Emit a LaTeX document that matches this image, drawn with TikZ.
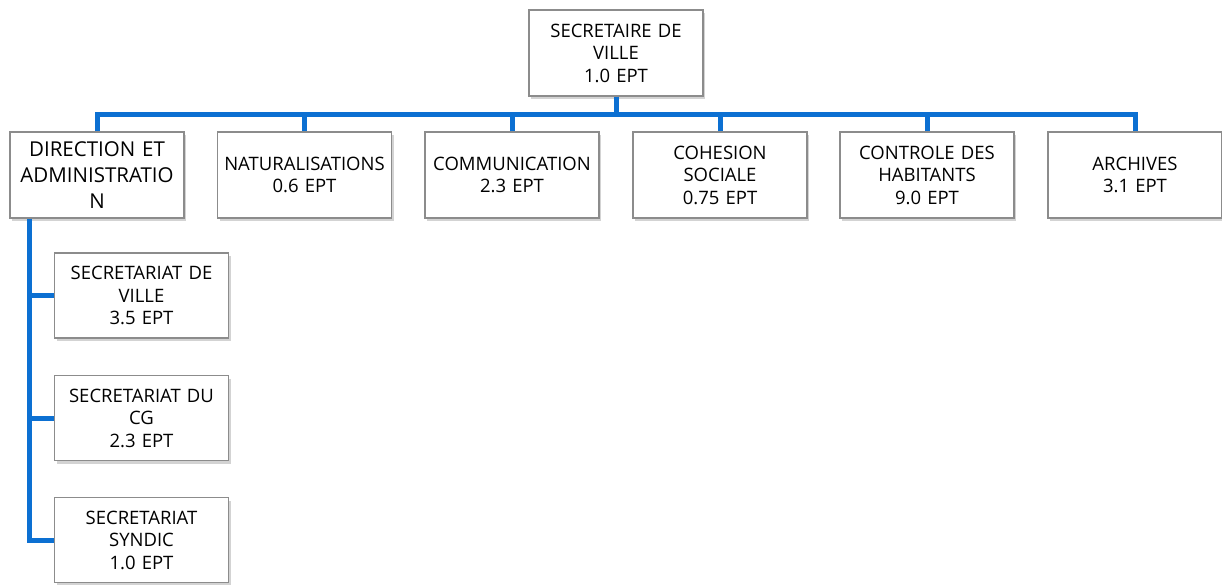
\documentclass[tikz,border=0pt]{standalone}
\usepackage{fontspec}
\setmainfont{Open Sans}
\usetikzlibrary{shadows}
\definecolor{linkblue}{RGB}{12,112,210}
\definecolor{boxgray}{RGB}{140,140,140}
\begin{document}
\begin{tikzpicture}[x=1pt,y=-1pt,
  orgbox/.style={draw=boxgray, line width=1.1pt, fill=white, minimum width=173pt, minimum height=86pt,
    inner sep=2pt, align=center, text width=170pt, font=\fontsize{18.5}{22.5}\selectfont,
    drop shadow={shadow xshift=2pt, shadow yshift=-3pt, opacity=0.35, fill=gray}},
  bigbox/.style={orgbox, font=\fontsize{20.5}{26}\selectfont},
  link/.style={draw=linkblue, line width=5pt, line join=miter}]
\useasboundingbox (0,0) rectangle (1222,584);
\node[orgbox] (top) at (616,53) {SECRETAIRE DE\\VILLE\\1.0 EPT};
\node[bigbox] (dir) at (97,175) {DIRECTION ET\\ADMINISTRATIO\\N};
\node[orgbox] (nat) at (304.5,175) {NATURALISATIONS\\0.6 EPT};
\node[orgbox] (com) at (512,175) {COMMUNICATION\\2.3 EPT};
\node[orgbox] (coh) at (720,175) {COHESION\\SOCIALE\\0.75 EPT};
\node[orgbox] (ctl) at (927,175) {CONTROLE DES\\HABITANTS\\9.0 EPT};
\node[orgbox] (arc) at (1135,175) {ARCHIVES\\3.1 EPT};
\node[orgbox, minimum height=85pt] (s1) at (141.5,295.5) {SECRETARIAT DE\\VILLE\\3.5 EPT};
\node[orgbox, minimum height=85pt] (s2) at (141.5,418) {SECRETARIAT DU\\CG\\2.3 EPT};
\node[orgbox, minimum height=85pt] (s3) at (141.5,540) {SECRETARIAT\\SYNDIC\\1.0 EPT};
\coordinate (bus) at (0,114);
\coordinate (trunk) at (29,0);
\draw[link] (dir.north) -- (dir.north |- bus) -- (arc.north |- bus) -- (arc.north);
\draw[link] (top.south) -- (top.south |- bus);
\foreach \n in {nat,com,coh,ctl} \draw[link] (\n.north) -- (\n.north |- bus);
\draw[link] (trunk |- dir.south) -- (trunk |- s3.west) -- (s3.west);
\draw[link] (trunk |- s1.west) -- (s1.west);
\draw[link] (trunk |- s2.west) -- (s2.west);
\end{tikzpicture}
\end{document}
